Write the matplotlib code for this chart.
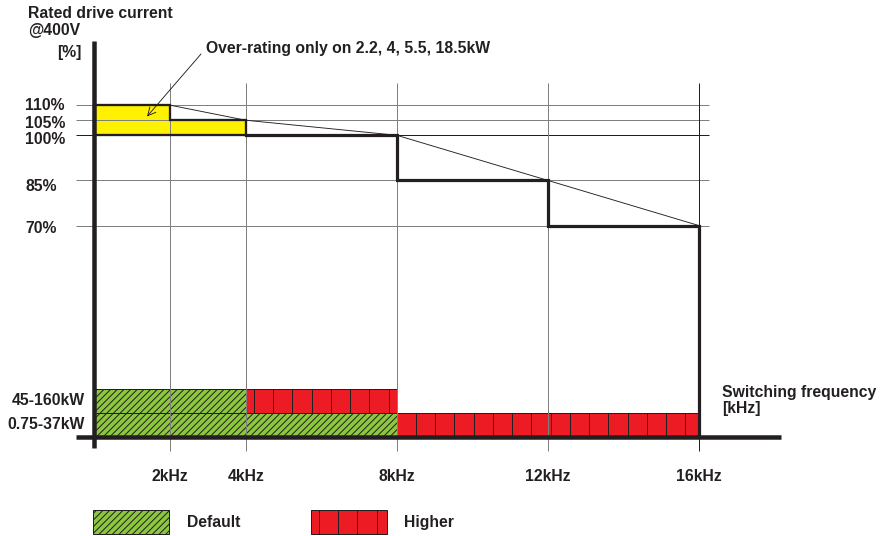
"""
Drive current derating vs switching frequency, with default / higher
switching frequency ranges per power class.
"""

import numpy as np
import matplotlib
matplotlib.use("Agg")
import matplotlib.pyplot as plt
from matplotlib.patches import Rectangle, Polygon

# Data
freq_edges = [0, 2, 4, 8, 12, 16]          # kHz, interval edges
rated_pct = [110, 105, 100, 85, 70]        # rated current in each interval
pct_ticks = [110, 105, 100, 85, 70]
pct_labels = ["110%", "105%", "100%", "85%", "70%"]
freq_ticks = [2, 4, 8, 12, 16]
freq_labels = ["2kHz", "4kHz", "8kHz", "12kHz", "16kHz"]
power_classes = ["0.75-37kW", "45-160kW"]
default_max_khz = [8, 4]
higher_max_khz = [16, 8]

# Colours
YELLOW = "#FFF200"
GREEN = "#8DC63F"
RED = "#ED1C24"
DARK = "#231F20"
GRID = "#7F7F7F"

# Pixel <-> data mapping (figure is drawn on one axes covering all of it)
W, H, DPI = 885, 536, 80
X0, SX = 94.5, 37.8       # px of 0 kHz, px per kHz
Y0, SY = 436.6, 3.013     # px of 0 %, px per %
PT = 72 / DPI             # points per pixel


def px_x(px):
    return (px - X0) / SX


def px_y(py):
    return (Y0 - py) / SY


plt.rcParams["font.family"] = ["Liberation Sans", "DejaVu Sans"]
plt.rcParams["font.weight"] = "bold"
plt.rcParams["hatch.linewidth"] = 1.0 * PT
plt.rcParams["hatch.color"] = DARK
FS = 15.8 * PT

fig = plt.figure(figsize=(W / DPI, H / DPI), dpi=DPI)
ax = fig.add_axes([0, 0, 1, 1])
ax.set_xlim(px_x(0), px_x(W))
ax.set_ylim(px_y(H), px_y(0))
ax.axis("off")

grid_top = px_y(83)
grid_bot = px_y(450.5)

# horizontal reference lines
for p in pct_ticks:
    ax.plot([px_x(76.5), px_x(708.5)], [p, p], color=DARK if p == 100 else GRID,
            lw=1.0 * PT, zorder=3, solid_capstyle="butt")

# vertical reference lines
for f in freq_ticks:
    ax.plot([f, f], [grid_bot, grid_top], color=DARK if f == freq_ticks[-1] else GRID,
            lw=1.0 * PT, zorder=3, solid_capstyle="butt")

# over-rating area (yellow)
poly = [(freq_edges[0], 100)]
for i, p in enumerate(rated_pct):
    if p > 100:
        poly += [(freq_edges[i], p), (freq_edges[i + 1], p)]
        last = freq_edges[i + 1]
poly += [(last, 100)]
ax.add_patch(Polygon(poly, closed=True, fc=YELLOW, ec="none", zorder=1))
ax.add_patch(Polygon(poly, closed=True, fc="none", ec=DARK, lw=2.3 * PT,
                     zorder=4, joinstyle="miter"))

# rated current step line
step = []
for i, p in enumerate(rated_pct):
    if p <= 100:
        step += [(freq_edges[i], p), (freq_edges[i + 1], p)]
step.append((freq_edges[-1], 0))
sx, sy = zip(*step)
ax.plot(sx, sy, color=DARK, lw=3.2 * PT, zorder=5, solid_joinstyle="miter")

# thin line through the interval corners
ax.plot(freq_edges[1:], rated_pct, color=DARK, lw=0.9 * PT, zorder=5)

# switching frequency bands
band_edges = [0, 7.7, 15.8]
CELL_W = 0.509
first_cell = [0.503, 0.22]


def red_cells(x0, x1, y0, y1, offset):
    ax.add_patch(Rectangle((x0, y0), x1 - x0, y1 - y0, fc=RED, ec=DARK,
                           lw=1.0 * PT, zorder=2))
    for xv in np.arange(x0 + offset, x1 - 0.1, CELL_W):
        ax.plot([xv, xv], [y0, y1], color=DARK, lw=1.0 * PT, zorder=2,
                solid_capstyle="butt")


def green_box(x0, x1, y0, y1):
    ax.add_patch(Rectangle((x0, y0), x1 - x0, y1 - y0, fc=GREEN, ec=DARK,
                           lw=1.0 * PT, hatch="////", zorder=2))


for k, name in enumerate(power_classes):
    y0, y1 = band_edges[k], band_edges[k + 1]
    green_box(0, default_max_khz[k], y0, y1)
    red_cells(default_max_khz[k], higher_max_khz[k], y0, y1, first_cell[k])

# axes lines
ax.plot([0, 0], [px_y(448), px_y(41)], color=DARK, lw=4.5 * PT, zorder=6,
        solid_capstyle="butt")
ax.plot([px_x(76.5), px_x(781)], [0, 0], color=DARK, lw=4.5 * PT, zorder=6,
        solid_capstyle="butt")

# texts
txt = dict(fontsize=FS, fontweight="bold", color=DARK, va="baseline")
ax.text(px_x(28), px_y(17.5), "Rated drive current", **txt)
ax.text(px_x(28), px_y(35), "@400V", **txt)
ax.text(px_x(57), px_y(57), "[%]", **txt)

label_nudge = [5, 8, 9, 11, 7]
for p, lab, n in zip(pct_ticks, pct_labels, label_nudge):
    ax.text(px_x(25.5), px_y(Y0 - p * SY + n), lab, ha="left", **txt)

for f, lab in zip(freq_ticks, freq_labels):
    ax.text(f, px_y(481), lab, ha="center", **txt)

class_baseline = [429.3, 405]
for name, b in zip(power_classes, class_baseline):
    ax.text(px_x(85), px_y(b), name, ha="right", **txt)

ax.text(px_x(722), px_y(396.7), "Switching frequency", **txt)
ax.text(px_x(722), px_y(412.5), "[kHz]", **txt)

ax.text(px_x(206), px_y(53.3), "Over-rating only on 2.2, 4, 5.5, 18.5kW", **txt)
ax.annotate("", xy=(px_x(147), px_y(116.5)), xytext=(px_x(201), px_y(54)),
            arrowprops=dict(arrowstyle="->", lw=0.9 * PT, color=DARK,
                            mutation_scale=18, shrinkA=0, shrinkB=0),
            zorder=7)

# legend
green_box(px_x(93), px_x(169), px_y(534), px_y(509.5))
ax.text(px_x(187), px_y(527.3), "Default", **txt)
red_cells(px_x(311), px_x(387), px_y(534), px_y(509.5), 0.21)
ax.text(px_x(404), px_y(527.3), "Higher", **txt)

fig.savefig("out.png", dpi=DPI)
plt.close(fig)
